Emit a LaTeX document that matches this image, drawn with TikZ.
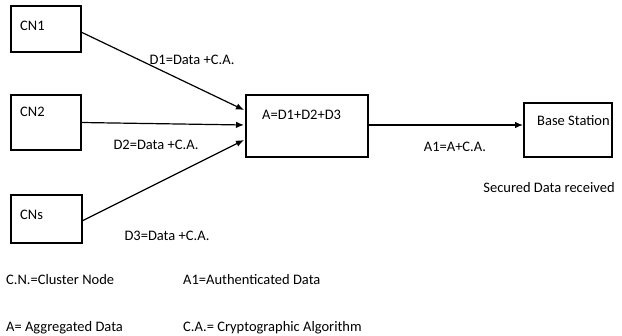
\documentclass[tikz,border=0pt]{standalone}
\usepackage{fontspec}
\setmainfont{Carlito}
\usetikzlibrary{arrows.meta,calc}
\begin{document}
\begin{tikzpicture}[x=1pt,y=-1pt,
  box/.style={draw,line width=1.2pt,minimum width=#1,inner sep=0pt,outer sep=0pt},
  txt/.style={inner sep=0pt,font=\fontsize{14.5}{16}\selectfont},
  arr/.style={line width=1.2pt,-{Latex[length=8pt,width=6.5pt]}}]
\useasboundingbox (0,0) rectangle (622,336);
% boxes
\node[box=70pt,minimum height=46pt] (cn1) at (46,29) {};
\node[box=70pt,minimum height=55pt] (cn2) at (46,122.5) {};
\node[box=71pt,minimum height=48pt] (cns) at (46.5,219) {};
\node[box=122pt,minimum height=62pt] (a) at (307,126) {};
\node[box=88pt,minimum height=54pt] (bs) at (568,130) {};
% box texts
\node[txt,anchor=west] (t1) at (20,26) {CN1};
\node[txt,anchor=west] (t2) at (20,112) {CN2};
\node[txt,anchor=west] (t3) at (20,215) {CNs};
\node[txt,anchor=west] (ta) at (262,115) {A=D1+D2+D3};
\node[txt,anchor=west] (tb) at (537,121) {Base Station};
% connectors
\draw[arr] ($(cn1.east)+(0,3)$) -- ($(a.west)+(-2,-16)$);
\draw[arr] (cn2.east) -- ($(a.west)+(-2,-1)$);
\draw[arr] ($(cns.east)+(0,2)$) -- ($(a.west)+(-2,14)$);
\draw[arr] ($(a.east)+(0,-1)$) -- ($(bs.west)+(-1,-5)$);
% labels
\node[txt] (l1) at (192,60) {D1=Data +C.A.};
\node[txt] (l2) at (156,145) {D2=Data +C.A.};
\node[txt] (l3) at (167,236) {D3=Data +C.A.};
\node[txt] (l4) at (455,147) {A1=A+C.A.};
\node[txt] (l5) at (549,188) {Secured Data received};
% legend
\node[txt,anchor=west] (g1) at (6,280) {C.N.=Cluster Node};
\node[txt,anchor=west] (g2) at (183,280) {A1=Authenticated Data};
\node[txt,anchor=west] (g3) at (6,328) {A= Aggregated Data};
\node[txt,anchor=west] (g4) at (183,328) {C.A.= Cryptographic Algorithm};
\end{tikzpicture}
\end{document}
